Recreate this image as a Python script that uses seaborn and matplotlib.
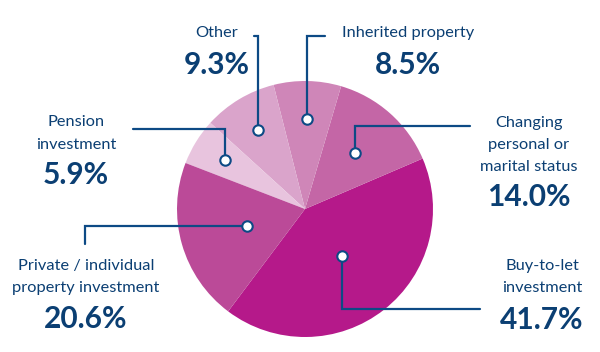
import numpy as np
import matplotlib
matplotlib.use("Agg")
import matplotlib.pyplot as plt
import seaborn as sns

# ---- data ----
categories = ["Buy-to-let\ninvestment", "Changing\npersonal or\nmarital status",
              "Inherited property", "Other", "Pension\ninvestment",
              "Private / individual\nproperty investment"]
shares = [41.7, 14.0, 8.5, 9.3, 5.9, 20.6]
pct_labels = ["41.7%", "14.0%", "8.5%", "9.3%", "5.9%", "20.6%"]

colors = ["#B5198A", "#C466A6", "#CF86B8", "#DAA4CB", "#E8C4DE", "#BB4A98"]
navy = "#0D4A85"
text_navy = "#0B3F73"

# ---- layout (pixels in the 600x352 canvas) ----
W, H = 600, 352
CX, CY, R = 305, 209, 128

def px(x, y):
    return (x - CX) / R, (CY - y) / R

marker_r = [0.47, 0.59, 0.70, 0.72, 0.73, 0.47]
# route: ("v", y_elbow, x_end) = go vertical then horizontal; ("h", x_elbow, y_end)
routes = [("v", 309, 480), ("v", 126, 470), ("v", 36, 325),
          ("v", 36, 254), ("v", 129, 133), ("h", 85, 244)]
name_pos = [(542, 277), (529, 145), (408, 33), (217, 33), (76, 133.5), (86, 277)]
pct_pos = [(542, 320), (529, 197), (408, 65), (217, 65), (76, 175), (86, 319)]

sns.set_theme(style="white")
plt.rcParams["font.family"] = ["Lato", "DejaVu Sans"]

fig = plt.figure(figsize=(W / 100, H / 100), dpi=100)
ax = fig.add_axes([0, 0, 1, 1])

wedges, _ = ax.pie(shares, colors=colors, startangle=233.1, counterclock=True,
                   radius=1, center=(0, 0), wedgeprops=dict(linewidth=0))

for i, w in enumerate(wedges):
    mid = np.deg2rad((w.theta1 + w.theta2) / 2)
    mx, my = marker_r[i] * np.cos(mid), marker_r[i] * np.sin(mid)
    kind, a, b = routes[i]
    if kind == "v":
        ey = px(0, a)[1]
        ex = px(b, 0)[0]
        xs, ys = [mx, mx, ex], [my, ey, ey]
    else:
        ex = px(a, 0)[0]
        ey = px(0, b)[1]
        xs, ys = [mx, ex, ex], [my, my, ey]
    ax.plot(xs, ys, color=navy, lw=1.6, solid_joinstyle="miter", zorder=3)
    ax.plot([mx], [my], marker="o", ms=7.5, mfc="white", mec=navy, mew=1.5, zorder=4)

    nx, ny = px(*name_pos[i])
    ax.text(nx, ny, categories[i], ha="center", va="center", fontsize=11.8,
            color=text_navy, linespacing=1.75)
    tx, ty = px(*pct_pos[i])
    ax.text(tx, ty, pct_labels[i], ha="center", va="center", fontsize=21.5,
            fontweight="bold", color=text_navy)

ax.set_xlim(-CX / R, (W - CX) / R)
ax.set_ylim(-(H - CY) / R, CY / R)
ax.set_aspect("auto")
ax.axis("off")

fig.savefig("out.png", dpi=100, facecolor="white")
